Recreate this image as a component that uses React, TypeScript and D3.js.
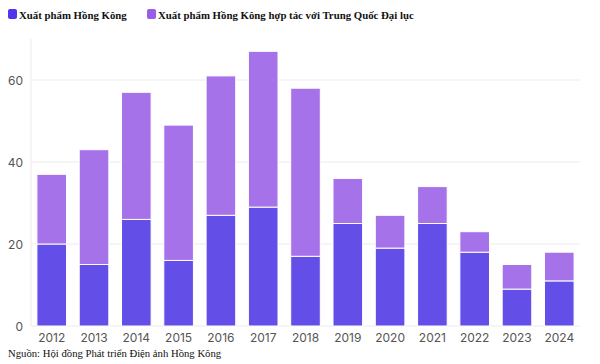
import React from "react";
import * as d3 from "d3";

const years = ["2012","2013","2014","2015","2016","2017","2018","2019","2020","2021","2022","2023","2024"];
const hkOnly = [20,15,26,16,27,29,17,25,19,25,18,9,11];
const coProd = [17,28,31,33,34,38,41,11,8,9,5,6,7];
const yTicks = [0,20,40,60];
const seriesNames = ["Xuất phẩm Hồng Kông","Xuất phẩm Hồng Kông hợp tác với Trung Quốc Đại lục"];
const sourceText = "Nguồn: Hội đồng Phát triển Điện ảnh Hồng Kông";

const W = 600, H = 364;
const left = 31, right = 580, top = 39, bottom = 326;
const barColors = ["#634fe8", "#a672e9"];
const swatchColors = ["#5035ea", "#9b5ce8"];

export default function App() {
  const x = d3.scaleBand<string>().domain(years).range([left, right]).paddingInner(0.3).paddingOuter(0.14);
  const y = d3.scaleLinear().domain([0, 70]).range([bottom, top]);
  const rows = years.map((yr, i) => ({ year: yr, a: hkOnly[i], b: coProd[i] }));
  const stacked = d3.stack<any>().keys(["a", "b"])(rows);

  return (
    <svg width={W} height={H} style={{ position: "absolute", left: 0, top: 0, background: "#fff" }}>
      {/* legend */}
      <g fontFamily="'Liberation Serif', 'Times New Roman', serif" fontWeight="bold" fontSize={10.8} fill="#111">
        <rect x={8} y={9} width={9} height={10} rx={2} fill={swatchColors[0]} />
        <text x={19} y={18.5}>{seriesNames[0]}</text>
        <rect x={147} y={9} width={9} height={10} rx={2} fill={swatchColors[1]} />
        <text x={158} y={18.5}>{seriesNames[1]}</text>
      </g>
      {/* grid */}
      <line x1={left} x2={left} y1={top} y2={bottom} stroke="#ebebeb" />
      {yTicks.map(t => (
        <g key={t}>
          <line x1={left} x2={right} y1={y(t)} y2={y(t)} stroke="#ebebeb" />
          <text x={23} y={y(t) + 4.5} textAnchor="end" fontFamily="Inter, 'Noto Sans', sans-serif" fontSize={12} fill="#555">{t}</text>
        </g>
      ))}
      {/* bars */}
      {stacked.map((s, si) => (
        <g key={si} fill={barColors[si]}>
          {s.map((d: any, i: number) => (
            <rect key={i} x={x(years[i])} width={x.bandwidth()} y={y(d[1])} height={y(d[0]) - y(d[1])}
              stroke="#fff" strokeWidth={1} />
          ))}
        </g>
      ))}
      {/* x labels */}
      {years.map(yr => (
        <text key={yr} x={(x(yr) as number) + x.bandwidth() / 2} y={342} textAnchor="middle"
          fontFamily="Inter, 'Noto Sans', sans-serif" fontSize={12} fill="#555">{yr}</text>
      ))}
      <text x={8} y={357} fontFamily="'Liberation Serif', 'Times New Roman', serif" fontSize={10.7} fill="#111">{sourceText}</text>
    </svg>
  );
}
